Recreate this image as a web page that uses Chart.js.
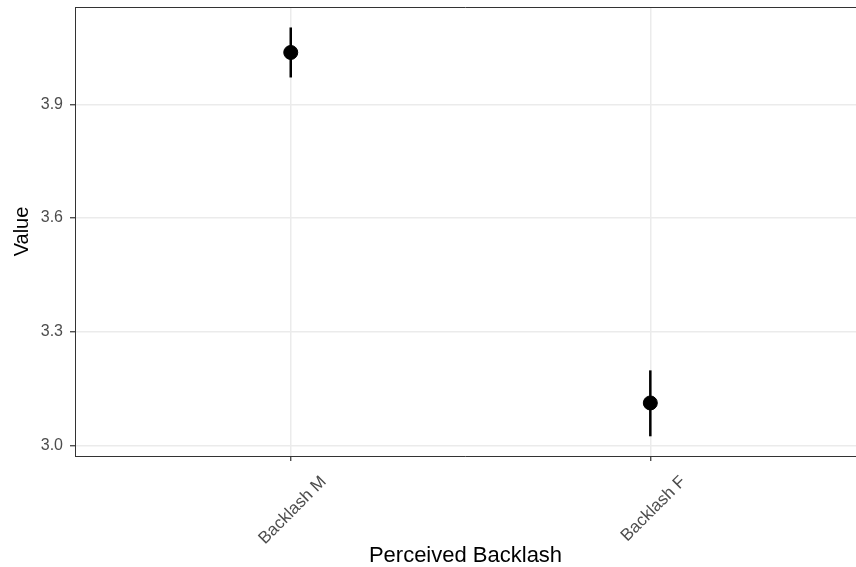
<!DOCTYPE html>
<html>
<head>
<meta charset="utf-8">
<script src="https://cdn.jsdelivr.net/npm/chart.js@4/dist/chart.umd.min.js"></script>
<style>
  html, body { margin: 0; padding: 0; background: #fff; }
  #wrap { width: 856px; height: 567px; }
</style>
</head>
<body>
<div id="wrap"><canvas id="chart" width="856" height="567"></canvas></div>
<script>
const categories = ["Backlash M", "Backlash F"];
const means = [4.037, 3.112];
const lower = [3.971, 3.024];
const upper = [4.103, 3.198];
const yTicks = [3.0, 3.3, 3.6, 3.9];

const FONT = "'Liberation Sans', Arial, sans-serif";

// error bars + top border of the panel
const extras = {
  id: "extras",
  beforeDatasetsDraw(chart) {
    const c = chart.ctx;
    const x = chart.scales.x;
    const y = chart.scales.y;
    c.save();
    c.strokeStyle = "#000";
    c.lineWidth = 2.5;
    categories.forEach((cat, i) => {
      const px = x.getPixelForValue(i + 1);
      c.beginPath();
      c.moveTo(px, y.getPixelForValue(lower[i]));
      c.lineTo(px, y.getPixelForValue(upper[i]));
      c.stroke();
    });
    c.restore();
  },
  afterDraw(chart) {
    const a = chart.chartArea;
    const c = chart.ctx;
    c.save();
    c.strokeStyle = "#333333";
    c.lineWidth = 1;
    c.beginPath();
    c.moveTo(a.left, a.top + 0.5);
    c.lineTo(a.right, a.top + 0.5);
    c.stroke();
    c.restore();
  },
};

new Chart(document.getElementById("chart").getContext("2d"), {
  type: "scatter",
  data: {
    datasets: [
      {
        data: means.map((v, i) => ({ x: i + 1, y: v })),
        backgroundColor: "#000",
        borderColor: "#000",
        pointRadius: 7,
        pointHoverRadius: 7,
      },
    ],
  },
  options: {
    responsive: false,
    animation: false,
    layout: { autoPadding: false, padding: { top: 7, right: 0, left: 0, bottom: 0 } },
    plugins: {
      legend: { display: false },
      tooltip: { enabled: false },
    },
    scales: {
      x: {
        type: "linear",
        min: 0.4,
        max: 2.572,
        afterBuildTicks: (s) => {
          s.ticks = categories.map((c, i) => ({ value: i + 1 }));
        },
        afterFit: (s) => {
          s.height = 111;
          s.paddingLeft = 0;
          s.paddingRight = 0;
        },
        ticks: {
          autoSkip: false,
          maxRotation: 45,
          minRotation: 45,
          color: "#4d4d4d",
          font: { family: FONT, size: 17 },
          padding: 11,
          labelOffset: 33,
          callback: (v) => categories[Math.round(v) - 1] || "",
        },
        grid: {
          color: "#ebebeb",
          lineWidth: 1.5,
          tickColor: "#333333",
          tickLength: 5,
          tickWidth: 1.2,
        },
        border: { color: "#333333", width: 1 },
        title: {
          display: true,
          text: "Perceived Backlash",
          color: "#000",
          font: { family: FONT, size: 22 },
          padding: { top: 0, bottom: -2 },
        },
      },
      y: {
        min: 2.972,
        max: 4.157,
        afterBuildTicks: (s) => {
          s.ticks = yTicks.map((v) => ({ value: v }));
        },
        afterFit: (s) => {
          s.width = 75;
          s.paddingTop = 0;
          s.paddingBottom = 0;
        },
        ticks: {
          color: "#4d4d4d",
          font: { family: FONT, size: 16 },
          padding: 7,
          callback: (v) => v.toFixed(1),
        },
        grid: {
          color: "#ebebeb",
          lineWidth: 1.5,
          tickColor: "#333333",
          tickLength: 5,
          tickWidth: 1.2,
        },
        border: { color: "#333333", width: 1 },
        title: {
          display: true,
          text: "Value",
          color: "#000",
          font: { family: FONT, size: 20 },
          padding: { top: 10, bottom: 0 },
        },
      },
    },
  },
  plugins: [extras],
});
</script>
</body>
</html>
